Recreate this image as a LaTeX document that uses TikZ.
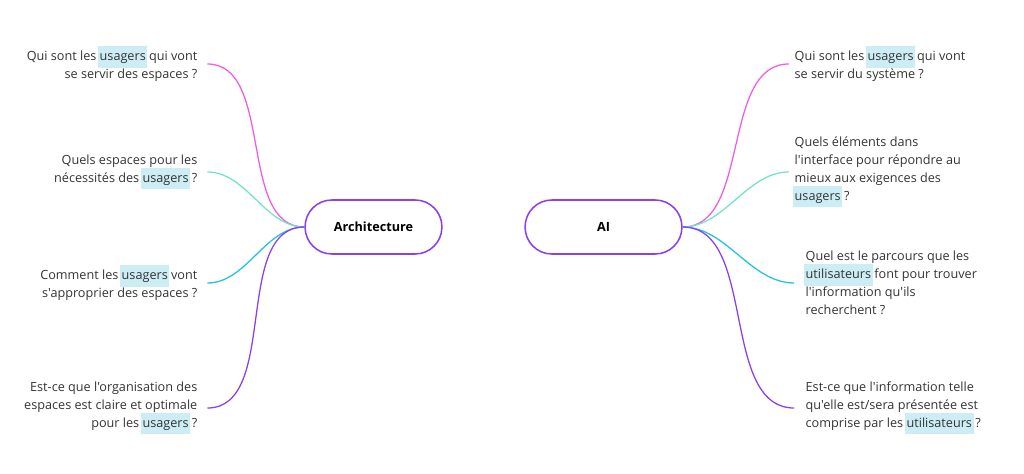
\documentclass[tikz,border=0pt]{standalone}
\usepackage{fontspec}
\setmainfont{Open Sans}[Ligatures=TeXOff]
\usetikzlibrary{positioning}
\definecolor{hlblue}{HTML}{CDEDF5}
\definecolor{txtgrey}{HTML}{333333}
\definecolor{brpink}{HTML}{F25CE0}
\definecolor{brteal}{HTML}{72E3C9}
\definecolor{brcyan}{HTML}{20C2E6}
\definecolor{brpurple}{HTML}{8B3FEF}
\newcommand{\hlw}[1]{{\setlength{\fboxsep}{1.2pt}\hspace{-1.2pt}\colorbox{hlblue}{\strut #1}\hspace{-1.2pt}}}
\begin{document}
\begin{tikzpicture}[
    x=0.025cm, y=-0.025cm,
    topic/.style={draw=brpurple,line width=1.1pt,rounded corners=0.67cm,minimum height=1.35cm,font=\bfseries\fontsize{9}{12}\selectfont,text=black},
    qleft/.style={align=right,inner sep=1pt,text=txtgrey,font=\fontsize{9}{12.8}\selectfont},
    qright/.style={align=left,inner sep=1pt,text=txtgrey,font=\fontsize{9}{12.8}\selectfont},
    branch/.style={line width=0.9pt,out=180,in=0,looseness=0.9}
    ]
    \useasboundingbox (0,0) rectangle (1024,473);

    % central topics:
    \node (arch) at (373.5,227) [topic,minimum width=3.42cm] {Architecture};
    \node (ai) at (603.5,227) [topic,minimum width=3.92cm] {AI};

    % left questions:
    \node (l1) at (199,64) [qleft,anchor=east] {Qui sont les \hlw{usagers} qui vont\\se servir des espaces ?};
    \node (l2) at (199,172) [qleft,anchor=east] {Quels espaces pour les\\nécessités des \hlw{usagers} ?};
    \node (l3) at (199,283) [qleft,anchor=east] {Comment les \hlw{usagers} vont\\s'approprier des espaces ?};
    \node (l4) at (199,408) [qleft,anchor=east] {Est-ce que l'organisation des\\espaces est claire et optimale\\pour les \hlw{usagers} ?};

    % right questions:
    \node (r1) at (793,64) [qright,anchor=west] {Qui sont les \hlw{usagers} qui vont\\se servir du système ?};
    \node (r2) at (793,172) [qright,anchor=west] {Quels éléments dans\\l'interface pour répondre au\\mieux aux exigences des\\\hlw{usagers} ?};
    \node (r3) at (804,283) [qright,anchor=west] {Quel est le parcours que les\\\hlw{utilisateurs} font pour trouver\\l'information qu'ils\\recherchent ?};
    \node (r4) at (804,408) [qright,anchor=west] {Est-ce que l'information telle\\qu'elle est/sera présentée est\\comprise par les \hlw{utilisateurs} ?};

    % connect nodes:
    \draw [branch,brpink] (arch.west) to ([xshift=6]l1.east);
    \draw [branch,brteal] (arch.west) to ([xshift=6]l2.east);
    \draw [branch,brcyan] (arch.west) to ([xshift=6]l3.east);
    \draw [branch,brpurple] (arch.west) to ([xshift=6]l4.east);
    \draw [branch,brpink,out=0,in=180] (ai.east) to ([xshift=-3]r1.west);
    \draw [branch,brteal,out=0,in=180] (ai.east) to ([xshift=-3]r2.west);
    \draw [branch,brcyan,out=0,in=180] (ai.east) to ([xshift=-7]r3.west);
    \draw [branch,brpurple,out=0,in=180] (ai.east) to ([xshift=-7]r4.west);

  \end{tikzpicture}
\end{document}
